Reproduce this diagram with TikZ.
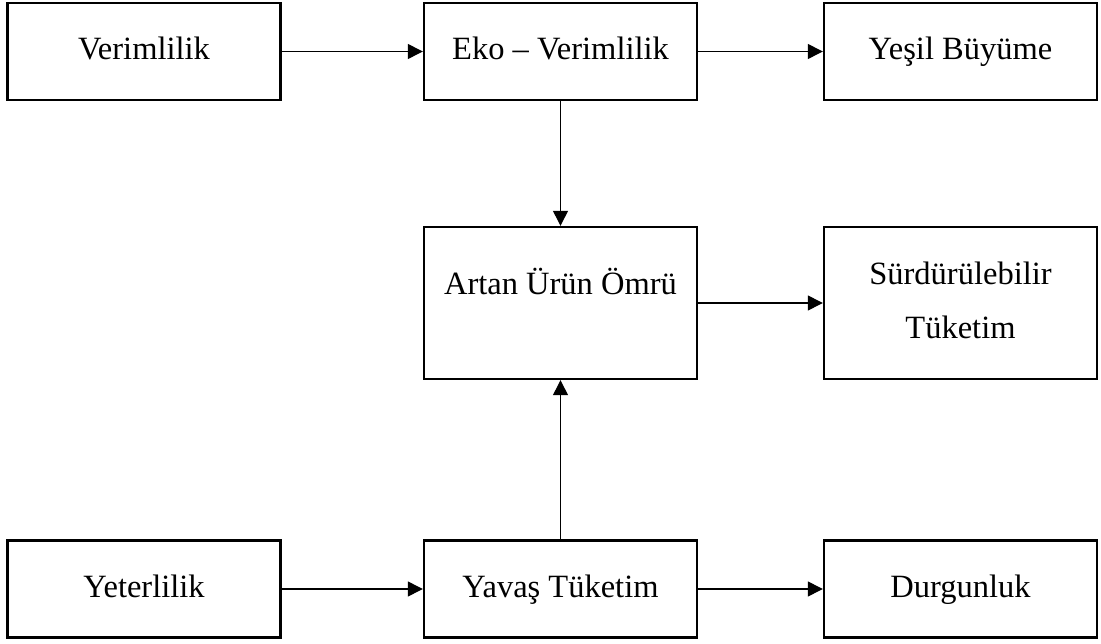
\documentclass[tikz,border=0pt]{standalone}
\usepackage{fontspec}
\setmainfont{Liberation Serif}
\usetikzlibrary{arrows.meta}
\begin{document}
\begin{tikzpicture}[x=1pt,y=-1pt,
  box/.style={draw, line width=2.4pt, minimum width=273pt, minimum height=97pt,
    inner sep=0pt, text height=24pt, text depth=7pt,
    font=\fontsize{32.5}{54}\selectfont},
  boxtall/.style={box, minimum height=152pt},
  lbl/.style={anchor=base, inner sep=0pt, font=\fontsize{32.5}{54}\selectfont},
  flow/.style={line width=1.3pt, -{Triangle[length=15pt,width=15pt]}}]
\useasboundingbox (0,0) rectangle (1101,644);
% top row
\node[box] (ver)  at (144,51.5)   {Verimlilik};
\node[box] (eko)  at (560.5,51.5) {Eko – Verimlilik};
\node[box] (yes)  at (960.5,51.5) {Yeşil Büyüme};
% middle row
\node[boxtall] (art) at (560.5,303) {};
\node[boxtall] (sur) at (960.5,303) {};
\node[lbl] (artt) at (560.5,295) {Artan Ürün Ömrü};
\node[lbl] (sur1) at (960.5,285) {Sürdürülebilir};
\node[lbl] (sur2) at (960.5,339) {Tüketim};
% bottom row
\node[box] (yet) at (144,589)   {Yeterlilik};
\node[box] (yav) at (560.5,589) {Yavaş Tüketim};
\node[box] (dur) at (960.5,589) {Durgunluk};
% connectors
\draw[flow] (ver) -- (eko);
\draw[flow] (eko) -- (yes);
\draw[flow] (eko) -- (art);
\draw[flow] (art) -- (sur);
\draw[flow] (yav) -- (art);
\draw[flow] (yet) -- (yav);
\draw[flow] (yav) -- (dur);
\end{tikzpicture}
\end{document}
